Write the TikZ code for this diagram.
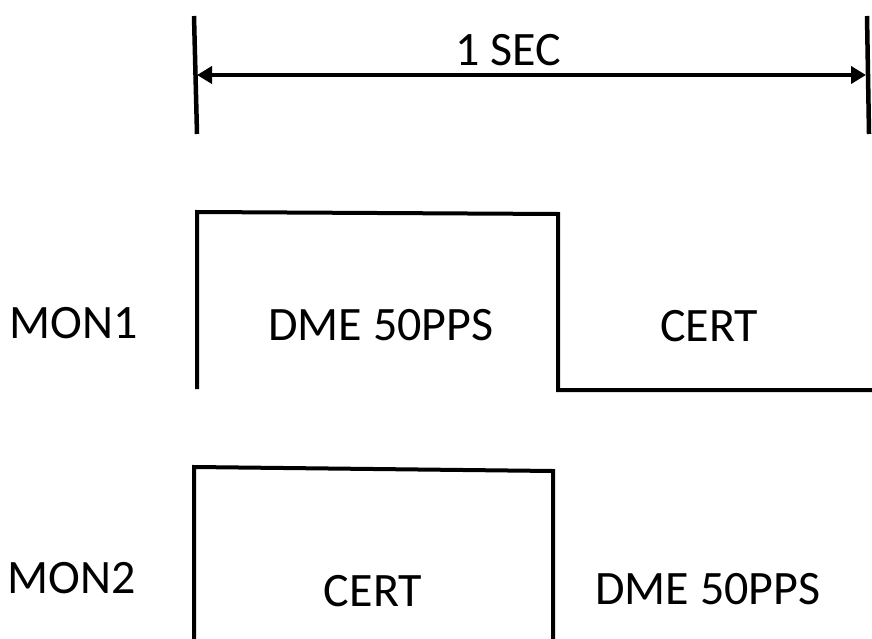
\documentclass[tikz,border=0pt]{standalone}
\usepackage{fontspec}
\setmainfont{Carlito}
\usetikzlibrary{arrows.meta}
\begin{document}
\begin{tikzpicture}[x=1pt,y=-1pt,
  lbl/.style={font=\fontsize{48}{57}\selectfont, inner sep=0pt, anchor=base},
  wave/.style={line width=4pt, line join=miter},
  tick/.style={line width=4.5pt},
  span/.style={line width=4pt, {Triangle[length=15pt,width=17pt]}-{Triangle[length=15pt,width=17pt]}}]
\useasboundingbox (0,0) rectangle (872,639);
% timing ticks
\coordinate (lt) at (194,16);
\coordinate (lb) at (197,134);
\coordinate (rt) at (867,16);
\coordinate (rb) at (869,134);
\draw[tick] (lt) -- (lb);
\draw[tick] (rt) -- (rb);
\coordinate (al) at (197,75);
\coordinate (ar) at (866,75);
\draw[span] (al) -- (ar);
\node[lbl] (sec) at (508,66) {1 SEC};
% MON1
\coordinate (a1) at (197,389);
\coordinate (a2) at (197,212);
\coordinate (a3) at (558,214);
\coordinate (a4) at (558,390);
\coordinate (a5) at (874,390);
\draw[wave] (a1) -- (a2) -- (a3) -- (a4) -- (a5);
\node[lbl] (mon1) at (74,338) {MON1};
\node[lbl] (dme1) at (381,340) {DME 50PPS};
\node[lbl] (cert1) at (709,341) {CERT};
% MON2
\coordinate (b1) at (194,641);
\coordinate (b2) at (194,467);
\coordinate (b3) at (553,471);
\coordinate (b4) at (553,641);
\draw[wave] (b1) -- (b2) -- (b3) -- (b4);
\node[lbl] (mon2) at (72,593) {MON2};
\node[lbl] (cert2) at (373,606) {CERT};
\node[lbl] (dme2) at (708,604) {DME 50PPS};
\end{tikzpicture}
\end{document}
